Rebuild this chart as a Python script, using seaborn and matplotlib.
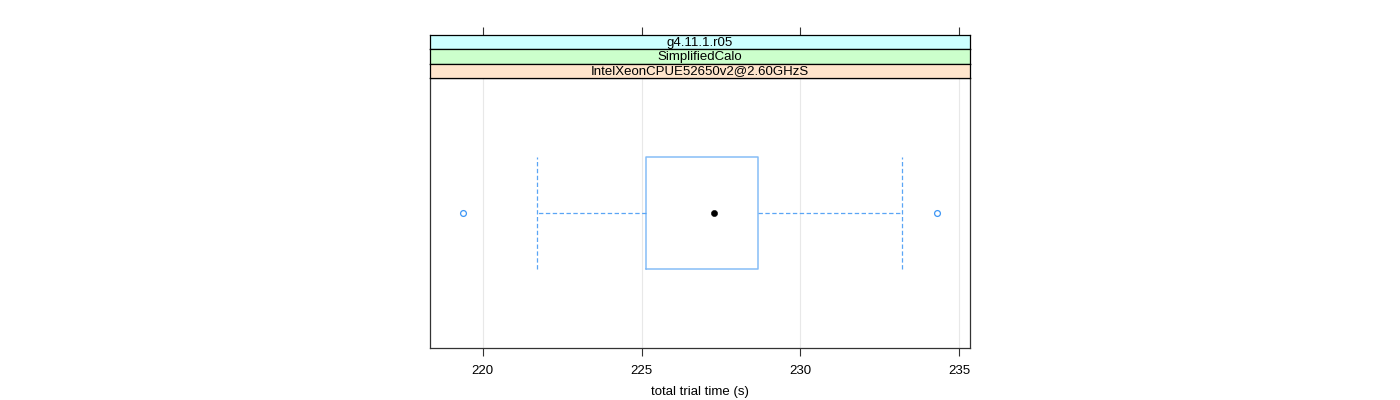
import matplotlib
matplotlib.use("Agg")
import matplotlib.pyplot as plt
import seaborn as sns
import pandas as pd

# ---- data ----
strip_labels = ["g4.11.1.r05", "SimplifiedCalo", "IntelXeonCPUE52650v2@2.60GHzS"]
strip_colors = ["#ccffff", "#ccffcc", "#ffe5cc"]
q1 = 225.15
median = 227.27
q3 = 228.66
whisker_low = 221.72
whisker_high = 233.19
outliers = [219.39, 234.29]
x_ticks = [220, 225, 230, 235]
x_label = "total trial time (s)"

sns.set_theme(style="white")
plt.rcParams["font.family"] = ["Liberation Sans", "DejaVu Sans"]
plt.rcParams["font.size"] = 9.5
plt.rcParams["text.color"] = "black"
plt.rcParams["axes.labelcolor"] = "black"
plt.rcParams["xtick.color"] = "black"

W, H = 1400, 400
fig = plt.figure(figsize=(W / 100, H / 100), dpi=100)

px_left, px_right = 430, 970
panel_top, panel_bottom = 78, 348
strip_top = 35

def fx(px):
    return px / W

def fy(py):
    return 1 - py / H

ax = fig.add_axes([fx(px_left), fy(panel_bottom), fx(px_right - px_left), (panel_bottom - panel_top) / H])
xlim = (218.34, 235.34)
ax.set_xlim(*xlim)
ax.set_ylim(0, 1)

for t in x_ticks:
    ax.axvline(t, color="#e8e8e8", lw=0.8, zorder=0)

box_color = "#86bdf7"
dash_color = "#5aa5f5"
stats = [{
    "med": median, "q1": q1, "q3": q3,
    "whislo": whisker_low, "whishi": whisker_high,
    "fliers": outliers, "label": "",
}]
dash = (0, (3.5, 2))
ax.bxp(
    stats, positions=[0.5], widths=[112 / 270], capwidths=[112 / 270],
    orientation="horizontal", patch_artist=False,
    boxprops=dict(color=box_color, lw=1.1),
    whiskerprops=dict(color=dash_color, lw=0.9, linestyle=dash),
    capprops=dict(color=dash_color, lw=0.9, linestyle=dash),
    medianprops=dict(linestyle="none"),
    flierprops=dict(marker="o", markersize=4.2, markerfacecolor="none",
                    markeredgecolor="#3f97f5", markeredgewidth=0.9),
    manage_ticks=False,
)
sns.scatterplot(x=[median], y=[0.5], ax=ax, color="black", s=20, edgecolor="black", zorder=5)

ax.set_xticks(x_ticks)
ax.set_xticklabels([str(t) for t in x_ticks])
ax.set_yticks([])
ax.tick_params(axis="x", bottom=True, top=False, direction="out", length=6, width=0.8,
               color="#333333", labelcolor="black", labelsize=9.5, pad=6)
ax.set_xlabel(x_label, fontsize=9.5, labelpad=7, color="black")
for s in ax.spines.values():
    s.set_color("#333333")
    s.set_linewidth(0.9)

# strips
strip_h = (panel_top - strip_top) / 3
for i, (lab, col) in enumerate(zip(strip_labels, strip_colors)):
    top_px = strip_top + i * strip_h
    sax = fig.add_axes([fx(px_left), fy(top_px + strip_h), fx(px_right - px_left), strip_h / H])
    sax.set_facecolor(col)
    sax.set_xlim(*xlim)
    sax.set_ylim(0, 1)
    sax.set_yticks([])
    if i == 0:
        sax.set_xticks(x_ticks)
        sax.tick_params(axis="x", bottom=False, top=True, labelbottom=False, labeltop=False,
                        direction="out", length=6, width=0.8, color="#333333")
    else:
        sax.set_xticks([])
    for s in sax.spines.values():
        s.set_color("black")
        s.set_linewidth(0.9)
    sax.text(0.5, 0.45, lab, transform=sax.transAxes, ha="center", va="center",
             fontsize=9.5, color="black")

fig.savefig("out.png", dpi=100)
